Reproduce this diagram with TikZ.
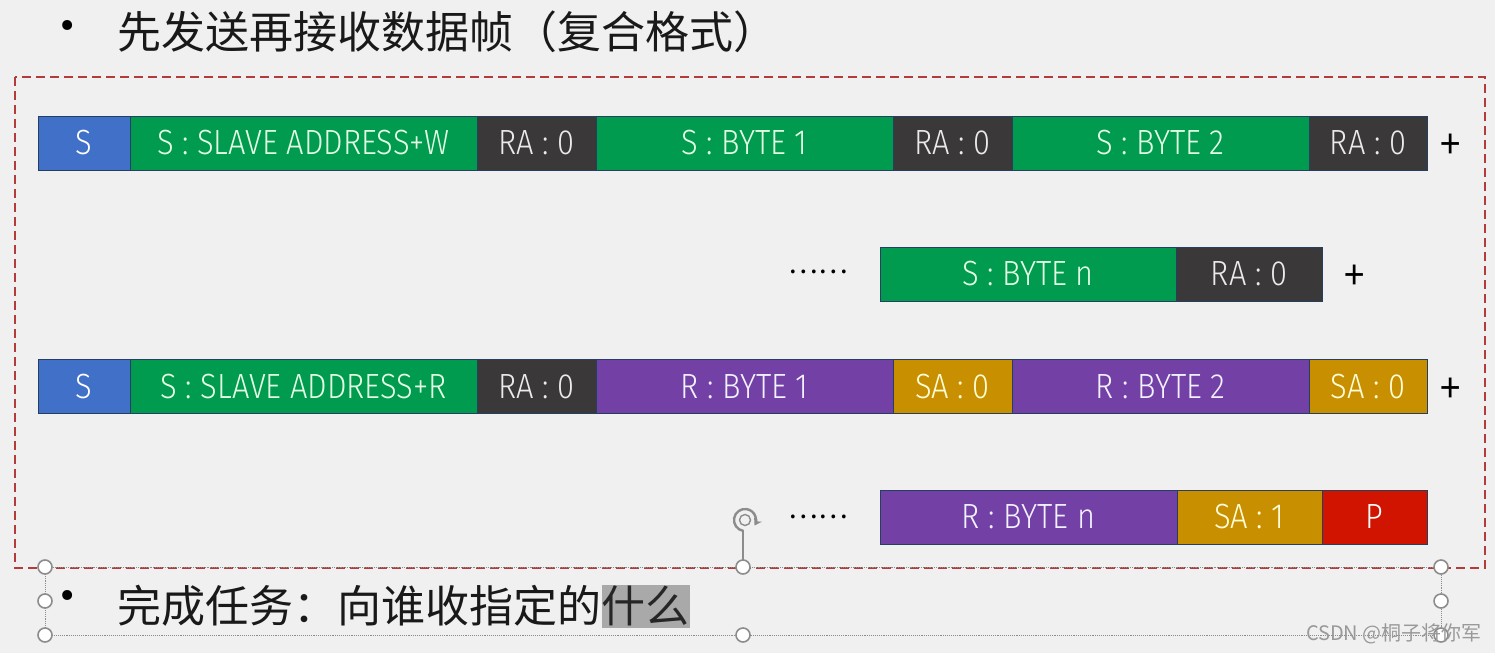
\documentclass[tikz,border=0pt]{standalone}
\usepackage{fontspec}
\usetikzlibrary{arrows.meta}
\newfontfamily\cjk{Noto Sans CJK SC}
\newfontfamily\boxfont[FakeStretch=0.88]{Fira Sans Light}
\newfontfamily\latfont{Fira Sans}
\definecolor{bg}{HTML}{F0F0F0}
\definecolor{cblue}{HTML}{4070C8}
\definecolor{cgreen}{HTML}{009B4F}
\definecolor{cdark}{HTML}{3A3838}
\definecolor{cpurple}{HTML}{7340A6}
\definecolor{cgold}{HTML}{C89000}
\definecolor{cred}{HTML}{D01400}
\definecolor{cline}{HTML}{24405E}
\definecolor{dashred}{HTML}{B23C3C}
\definecolor{hlgray}{HTML}{A9A9A9}
\definecolor{handle}{HTML}{8C8C8C}
\tikzset{
  cell/.style={draw=cline, line width=0.8pt, minimum height=54, inner sep=0,
    font=\boxfont\fontsize{35}{40}\selectfont},
  sblue/.style={cell, fill=cblue, text=white},
  sgreen/.style={cell, fill=cgreen, text=green!10!white},
  sdark/.style={cell, fill=cdark, text=white!92!black},
  spurple/.style={cell, fill=cpurple, text=white!95!blue},
  sgold/.style={cell, fill=cgold, text=yellow!15!white},
  sred/.style={cell, fill=cred, text=white},
  plussign/.style={font=\boxfont\fontsize{56}{60}\selectfont, text=black, inner sep=0},
  dotsign/.style={font=\cjk\fontsize{28}{30}\selectfont, text=black, inner sep=0},
  headtext/.style={font=\cjk\fontsize{44}{50}\selectfont, text=black!90, inner sep=0, anchor=west},
  bulletmark/.style={font=\latfont\fontsize{44}{50}\selectfont, text=black, inner sep=0},
  hnd/.style={circle, draw=handle, fill=white, line width=1.6pt, minimum size=14, inner sep=0},
  selline/.style={draw=handle, densely dotted, line width=0.9pt},
}
\newcommand\cl{\ :\ }
\begin{document}
\begin{tikzpicture}[x=1pt,y=-1pt]
\fill[bg] (0,0) rectangle (1495,653);
\useasboundingbox (0,0) rectangle (1495,653);

% title
\node[bulletmark] (bul1) at (68,31) {•};
\node[headtext] (title) at (117,32) {先发送再接收数据帧（复合格式）};

% dashed frame
\draw[dashred, line width=1.5pt, dash pattern=on 9pt off 5pt] (15,77) rectangle (1485,568);

% row 1
\node[sblue,  minimum width=92]  (r1s)  at (84,143)    {S};
\node[sgreen, minimum width=347] (r1ad) at (303.5,143) {S\cl SLAVE ADDRESS+W};
\node[sdark,  minimum width=119] (r1a1) at (536.5,143) {RA\cl 0};
\node[sgreen, minimum width=297] (r1b1) at (744.5,143) {S\cl BYTE 1};
\node[sdark,  minimum width=119] (r1a2) at (952.5,143) {RA\cl 0};
\node[sgreen, minimum width=297] (r1b2) at (1160.5,143){S\cl BYTE 2};
\node[sdark,  minimum width=118] (r1a3) at (1368,143)  {RA\cl 0};
\node[plussign] (p1) at (1451,148) {+};

% row 2
\node[dotsign] (d2) at (818,272) {……};
\node[sgreen, minimum width=296] (r2bn) at (1028,274) {S : BYTE n};
\node[sdark,  minimum width=146] (r2a)  at (1249,274) {RA : 0};
\node[plussign] (p2) at (1355,279) {+};

% row 3
\node[sblue,   minimum width=92]  (r3s)  at (84,386.5)    {S};
\node[sgreen,  minimum width=347] (r3ad) at (303.5,386.5) {S\cl SLAVE ADDRESS+R};
\node[sdark,   minimum width=119] (r3a1) at (536.5,386.5) {RA : 0};
\node[spurple, minimum width=297] (r3b1) at (744.5,386.5) {R : BYTE 1};
\node[sgold,   minimum width=119] (r3a2) at (952.5,386.5) {SA : 0};
\node[spurple, minimum width=297] (r3b2) at (1160.5,386.5){R : BYTE 2};
\node[sgold,   minimum width=118] (r3a3) at (1368,386.5)  {SA : 0};
\node[plussign] (p3) at (1451,392) {+};

% row 4
\node[dotsign] (d4) at (818,517) {……};
\node[spurple, minimum width=297] (r4bn) at (1028.5,517) {R : BYTE n};
\node[sgold,   minimum width=145] (r4a)  at (1249.5,517) {SA : 1};
\node[sred,    minimum width=105] (r4p)  at (1374.5,517) {P};

% selection frame of the text box
\coordinate (tl) at (45,567);
\coordinate (tm) at (743,567);
\coordinate (tr) at (1441,567);
\coordinate (ml) at (45,601);
\coordinate (mr) at (1441,601);
\coordinate (bl) at (45,635);
\coordinate (bm) at (743,635);
\coordinate (br) at (1441,635);
\coordinate (rot) at (745,520);
\draw[selline] (tl) -- (tr) -- (br) -- (bl) -- cycle;
\draw[handle, line width=1.4pt] (743,530) -- (tm);
\draw[handle, line width=2.4pt, -{Stealth[length=7pt,width=9pt]}] (rot) ++(100:11) arc[start angle=100, end angle=390, radius=11];
\draw[handle, line width=1.4pt] (rot) circle[radius=5.5];

% second bullet line
\node[bulletmark] (bul2) at (68,601) {•};
\node[headtext] (t2) at (117,606) {完成任务：向谁收指定的};
\node[headtext, fill=hlgray, minimum height=43, text=black!85] (hl) at (t2.east) {什么};

\foreach \c in {tl,tm,tr,ml,mr,bl,bm,br} \node[hnd] at (\c) {};

% watermark
\node[font=\cjk\fontsize{20}{22}\selectfont, text=black!40, anchor=east, inner sep=0] (wm) at (1482,634) {CSDN @桐子将你军};
\end{tikzpicture}
\end{document}
